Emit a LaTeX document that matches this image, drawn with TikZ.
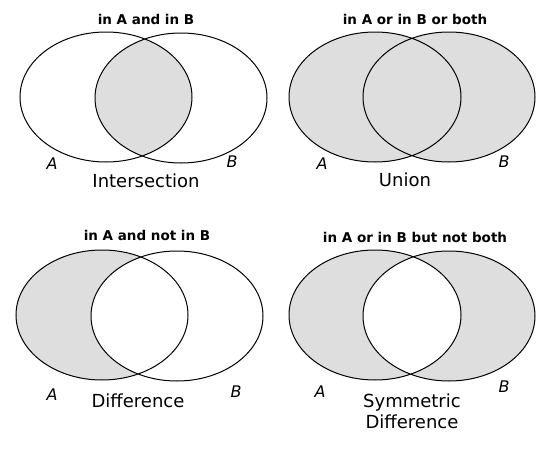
\documentclass[tikz,border=0pt]{standalone}
\usepackage{fontspec}
\setsansfont{DejaVu Sans}
\definecolor{setgray}{RGB}{222,222,222}
\begin{document}
\begin{tikzpicture}[x=1pt,y=-1pt,
  set/.style={draw,line width=1pt},
  title/.style={anchor=base,font=\sffamily\bfseries\fontsize{13.5}{15}\selectfont},
  caption/.style={anchor=base,align=center,font=\sffamily\fontsize{18}{21}\selectfont},
  setname/.style={anchor=base,font=\sffamily\itshape\fontsize{16}{18}\selectfont}]
\useasboundingbox (0,0) rectangle (555,455);
\def\rx{86pt}\def\ry{65pt}
% intersection
\begin{scope}
\clip (106,97) ellipse [x radius=\rx,y radius=\ry];
\fill[setgray] (181,98) ellipse [x radius=\rx,y radius=\ry];
\end{scope}
\draw[set] (106,97) ellipse [x radius=\rx,y radius=\ry] (181,98) ellipse [x radius=\rx,y radius=\ry];
\node[title] (tint) at (146,24) {in A and in B};
\node[setname] (aint) at (52,169) {A};
\node[setname] (bint) at (232,167) {B};
\node[caption] (cint) at (146,187) {Intersection};
% union
\fill[setgray] (375,97) ellipse [x radius=\rx,y radius=\ry] (449,97) ellipse [x radius=\rx,y radius=\ry];
\draw[set] (375,97) ellipse [x radius=\rx,y radius=\ry] (449,97) ellipse [x radius=\rx,y radius=\ry];
\node[title] (tuni) at (415,24) {in A or in B or both};
\node[setname] (auni) at (322,169) {A};
\node[setname] (buni) at (504,167) {B};
\node[caption] (cuni) at (405,186) {Union};
% difference
\fill[setgray] (102,315) ellipse [x radius=\rx,y radius=\ry];
\fill[white] (177,316) ellipse [x radius=\rx,y radius=\ry];
\draw[set] (102,315) ellipse [x radius=\rx,y radius=\ry] (177,316) ellipse [x radius=\rx,y radius=\ry];
\node[title] (tdif) at (147,240) {in A and not in B};
\node[setname] (adif) at (52,400) {A};
\node[setname] (bdif) at (236,397) {B};
\node[caption] (cdif) at (138,407) {Difference};
% symmetric difference
\fill[setgray,even odd rule] (375,315) ellipse [x radius=\rx,y radius=\ry] (449,316) ellipse [x radius=\rx,y radius=\ry];
\draw[set] (375,315) ellipse [x radius=\rx,y radius=\ry] (449,316) ellipse [x radius=\rx,y radius=\ry];
\node[title] (tsym) at (415,242) {in A or in B but not both};
\node[setname] (asym) at (320,397) {A};
\node[setname] (bsym) at (504,392) {B};
\node[caption] (csym) at (412,428) {Symmetric\\Difference};
\end{tikzpicture}
\end{document}
